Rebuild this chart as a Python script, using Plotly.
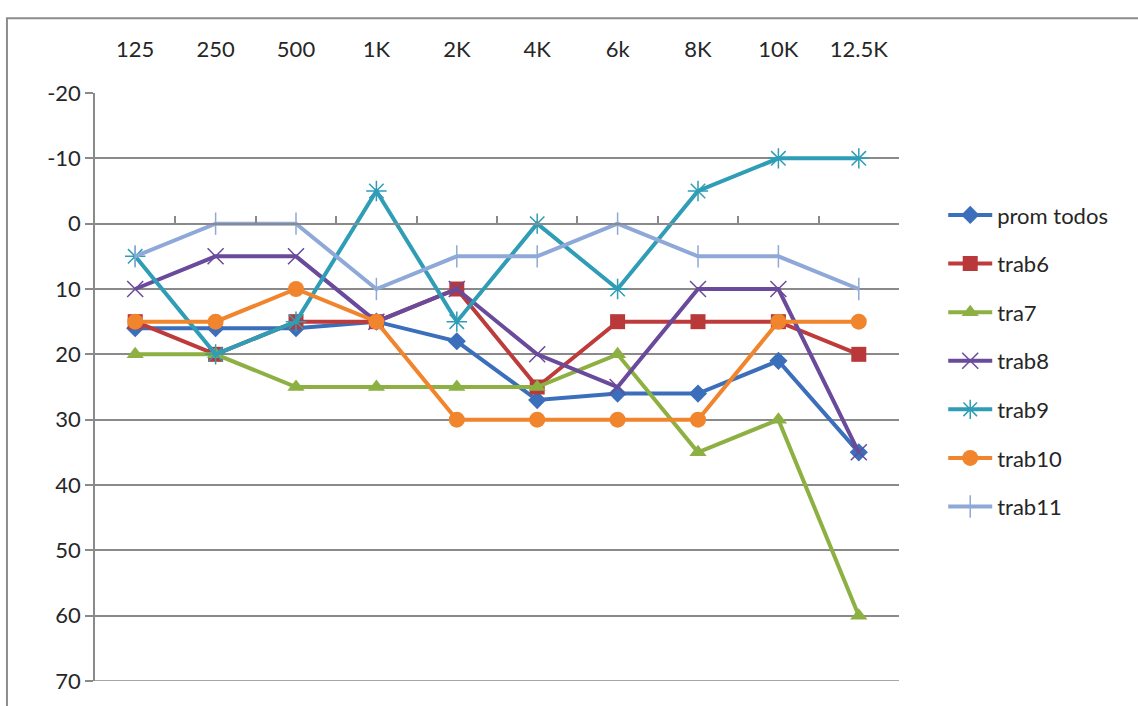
import plotly.graph_objects as go

# Audiometric frequencies and hearing threshold values (dB) per worker
frequencies = ["125", "250", "500", "1K", "2K", "4K", "6k", "8K", "10K", "12.5K"]

prom_todos = [16, 16, 16, 15, 18, 27, 26, 26, 21, 35]
trab6 = [15, 20, 15, 15, 10, 25, 15, 15, 15, 20]
tra7 = [20, 20, 25, 25, 25, 25, 20, 35, 30, 60]
trab8 = [10, 5, 5, 15, 10, 20, 25, 10, 10, 35]
trab9 = [5, 20, 15, -5, 15, 0, 10, -5, -10, -10]
trab10 = [15, 15, 10, 15, 30, 30, 30, 30, 15, 15]
trab11 = [5, 0, 0, 10, 5, 5, 0, 5, 5, 10]

y_ticks = [-20, -10, 0, 10, 20, 30, 40, 50, 60, 70]

series = [
    ("prom todos", prom_todos, "#3c6fbb", dict(symbol="diamond", size=14, color="#3c6fbb")),
    ("trab6", trab6, "#be3b3b", dict(symbol="square", size=15, color="#b9383a")),
    ("tra7", tra7, "#8db043", dict(symbol="triangle-up", size=15, color="#8db043")),
    ("trab8", trab8, "#6a4a9a", dict(symbol="x-thin-open", size=16,
                                     line=dict(color="#9b8ab8", width=1.5))),
    ("trab9", trab9, "#2f9db6", dict(symbol="asterisk-open", size=17,
                                     line=dict(color="#6cbfd6", width=1.5))),
    ("trab10", trab10, "#f0852d", dict(symbol="circle", size=16, color="#f0852d")),
    ("trab11", trab11, "#8ea9d8", dict(symbol="line-ns-open", size=16,
                                      line=dict(color="#8ea9d8", width=1.5))),
]

FONT = "Lato, 'Open Sans', sans-serif"
GRID = "#8a8a8a"

fig = go.Figure()
for i, (name, vals, col, mk) in enumerate(series):
    fig.add_trace(go.Scatter(
        x=frequencies, y=vals, name=name, mode="lines+markers",
        line=dict(color=col, width=4), marker=mk,
        legendgroup=f"g{i}",
    ))

# Secondary category axis drawn along the 0 dB line, with boundary tick marks
fig.add_trace(go.Scatter(x=frequencies, y=[None] * len(frequencies),
                         xaxis="x2", showlegend=False, hoverinfo="skip"))

y_min, y_max = min(y_ticks), max(y_ticks)
zero_pos = (y_max - 0) / (y_max - y_min)

fig.update_layout(
    width=1138, height=706,
    margin=dict(l=95, r=239, t=93, b=21),
    paper_bgcolor="white", plot_bgcolor="white",
    font=dict(family=FONT, size=22, color="#262626"),
    showlegend=True,
    legend=dict(
        x=1.055, xanchor="left", y=0.828, yanchor="top",
        traceorder="grouped", tracegroupgap=17,
        font=dict(family=FONT, size=22, color="#262626"),
        bgcolor="rgba(0,0,0,0)", itemwidth=44,
    ),
    xaxis=dict(
        type="category", side="top", categoryorder="array", categoryarray=frequencies,
        range=[-0.5, len(frequencies) - 0.5],
        showgrid=False, showline=False, zeroline=False,
        ticks="outside", ticklen=26, tickcolor="rgba(0,0,0,0)",
        tickfont=dict(family=FONT, size=22, color="#262626"),
    ),
    xaxis2=dict(
        type="category", overlaying="x", anchor="free", position=zero_pos,
        side="bottom", categoryorder="array", categoryarray=frequencies,
        range=[-0.5, len(frequencies) - 0.5],
        showline=True, linecolor=GRID, linewidth=1.5,
        ticks="inside", tickson="boundaries", ticklen=7, tickcolor=GRID, tickwidth=1.5,
        showticklabels=False, showgrid=False, zeroline=False,
    ),
    yaxis=dict(
        range=[y_max, y_min],
        tickmode="array", tickvals=y_ticks, ticktext=[str(v) for v in y_ticks],
        showgrid=True, gridcolor=GRID, gridwidth=1.5,
        showline=True, linecolor=GRID, linewidth=1.5,
        ticks="outside", ticklen=8, tickcolor=GRID, tickwidth=1.5,
        zeroline=False,
        tickfont=dict(family=FONT, size=22, color="#262626"),
    ),
)

# Bottom gridline at the lower end of the value axis
fig.add_shape(type="line", xref="paper", yref="y", x0=0, x1=1, y0=y_max, y1=y_max,
              line=dict(color=GRID, width=1.5), layer="below")

# Chart frame around the whole figure area
fig.add_shape(type="rect", xref="paper", yref="paper",
              x0=-0.1095, x1=1.36, y0=-0.06, y1=1.127,
              line=dict(color="#8c8c8c", width=2), fillcolor="rgba(0,0,0,0)",
              layer="below")

fig.write_html("out.html")
